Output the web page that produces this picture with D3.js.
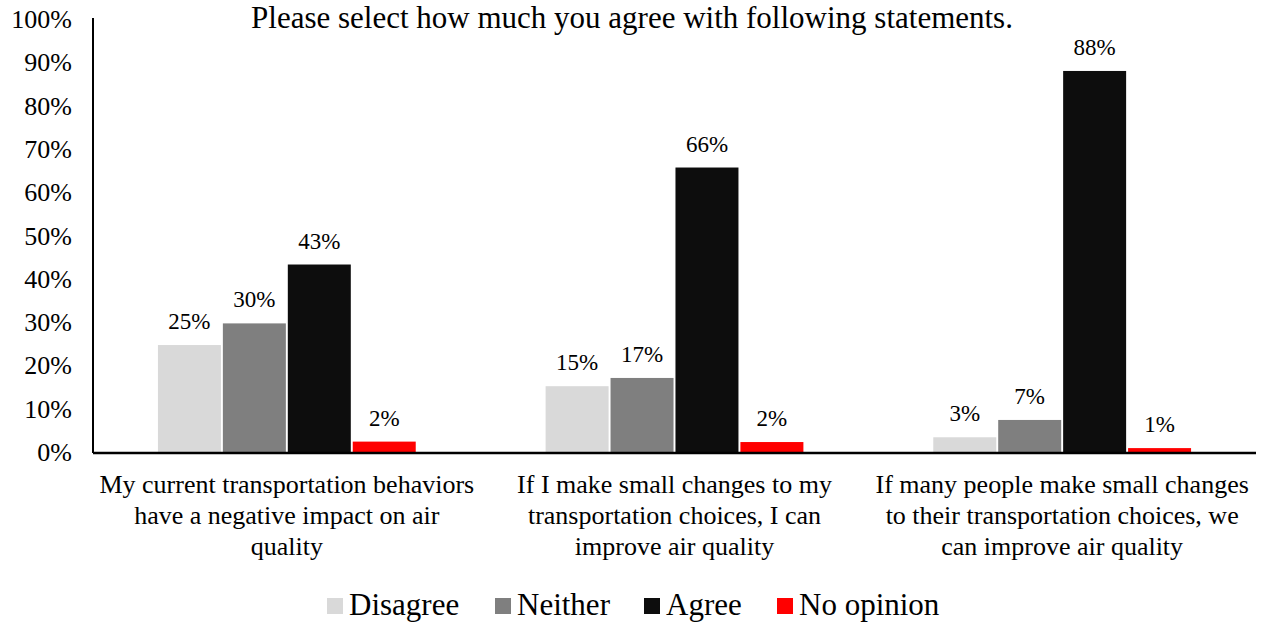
<!DOCTYPE html>
<html><head><meta charset="utf-8">
<script src="https://cdn.jsdelivr.net/npm/d3@7"></script>
<style>body{margin:0;background:#fff;} svg{display:block;}</style>
</head><body>
<svg id="c" width="1265" height="624"></svg>
<script>
const title = "Please select how much you agree with following statements.";
const categories = [
  ["My current transportation behaviors","have a negative impact on air","quality"],
  ["If I make small changes to my","transportation choices, I can","improve air quality"],
  ["If many people make small changes","to their transportation choices, we","can improve air quality"]
];
const seriesNames = ["Disagree","Neither","Agree","No opinion"];
const seriesColors = ["#d9d9d9","#7f7f7f","#0d0d0d","#ff0000"];
const disagree = [24.7, 15.2, 3.4];
const neither = [29.7, 17.1, 7.4];
const agree = [43.3, 65.7, 88.0];
const noOpinion = [2.4, 2.3, 0.9];
const yTicks = [0,10,20,30,40,50,60,70,80,90,100];

(function(){
const FONT = "'Liberation Serif', 'Times New Roman', Times, 'DejaVu Serif', serif";
const series = [disagree, neither, agree, noOpinion];
const svg = d3.select("#c").style("font-family", FONT);
const mLeft = 93, mRight = 1256, mTop = 19, mBottom = 452;

const x0 = d3.scaleBand().domain(d3.range(categories.length)).range([mLeft, mRight]).paddingInner(0).paddingOuter(0);
const groupW = x0.bandwidth();
const x1 = d3.scaleBand().domain(d3.range(series.length)).range([0, groupW]).paddingOuter(1.0).paddingInner(0.03);
const y = d3.scaleLinear().domain([0,100]).range([mBottom, mTop]);

svg.append("text").attr("x", 632).attr("y", 28).attr("text-anchor","middle").style("font-family", FONT).attr("font-size", 31).text(title);

const yAxis = d3.axisLeft(y).tickValues(yTicks).tickFormat(d => d + "%").tickSize(0).tickPadding(14);
const ya = svg.append("g").attr("transform", `translate(${mLeft},0)`).call(yAxis);
ya.attr("font-family", null).attr("font-size", null);
ya.select(".domain").remove();
ya.selectAll("text").style("font-family", FONT).attr("font-size", 26).attr("fill","#000").attr("dy","0.33em").attr("x", -21);

categories.forEach((cat, ci) => {
  series.forEach((vals, si) => {
    const bx = x0(ci) + x1(si);
    svg.append("rect").attr("x", bx).attr("y", y(vals[ci])).attr("width", x1.bandwidth()).attr("height", mBottom - y(vals[ci]))
      .attr("fill", seriesColors[si]);
    svg.append("text").attr("x", bx + x1.bandwidth()/2).attr("y", y(vals[ci]) - 16).style("font-family", FONT)
      .attr("text-anchor","middle").attr("font-size", 23).text(Math.round(vals[ci]) + "%");
  });
  const t = svg.append("text").attr("x", x0(ci) + groupW/2).attr("y", 493).attr("text-anchor","middle").style("font-family", FONT).attr("font-size", 26);
  cat.forEach((line, li) => t.append("tspan").attr("x", x0(ci) + groupW/2).attr("dy", li === 0 ? 0 : 31).text(line));
});

svg.append("line").attr("x1", mLeft).attr("x2", mLeft).attr("y1", 18).attr("y2", mBottom+1).attr("stroke","#000").attr("stroke-width",2);
svg.append("line").attr("x1", mLeft).attr("x2", mRight).attr("y1", mBottom+1).attr("y2", mBottom+1).attr("stroke","#000").attr("stroke-width",2.5);

const legendX = [327, 495, 644, 777];
seriesNames.forEach((n, i) => {
  svg.append("rect").attr("x", legendX[i]).attr("y", 598).attr("width", 16).attr("height", 16).attr("fill", seriesColors[i]);
  svg.append("text").attr("x", legendX[i] + 22).attr("y", 615).style("font-family", FONT).attr("font-size", 31).text(n);
});
})();
</script>
</body></html>
